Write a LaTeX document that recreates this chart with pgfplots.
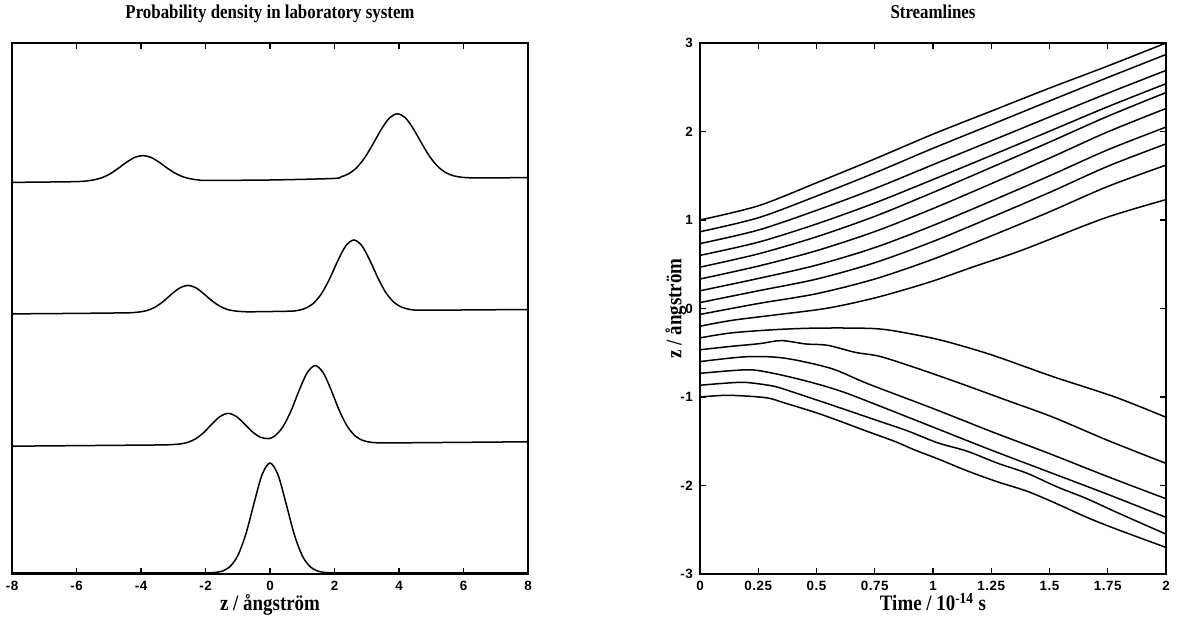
\documentclass[border=0pt]{standalone}
\usepackage{pgfplots}
\pgfplotsset{compat=1.18}
\usepackage{fontspec}
\setmainfont{Liberation Serif}
\newfontfamily\condserif[FakeStretch=0.86]{Liberation Serif}
\newfontfamily\ticksans[LetterSpace=4]{Liberation Sans}

\pgfplotsset{
  panel/.style={
    scale only axis,
    axis line style={line width=0.8pt},
    tick align=inside,
    major tick length=3pt,
    tick style={line width=0.6pt, black},
    every tick label/.append style={font=\ticksans\bfseries\fontsize{6.7}{7}\selectfont},
    every axis title shift=0pt,
    title style={font=\condserif\bfseries\fontsize{9.8}{11}\selectfont, at={(0.5,1)}, anchor=base, yshift=12pt},
    xlabel style={font=\condserif\bfseries\fontsize{11}{12}\selectfont, at={(0.5,0)}, anchor=base, yshift=-18.5pt},
    ylabel style={font=\condserif\bfseries\fontsize{11}{12}\selectfont},
  },
  curve/.style={black, solid, line width=0.75pt, no marks, smooth},
}

\begin{document}
\begin{tikzpicture}
\path[use as bounding box] (0,0) rectangle (589.5pt,309.5pt);

% ---------------- Left panel ----------------
\begin{axis}[panel, at={(6pt,22.5pt)}, anchor=south west, width=258pt, height=265.5pt,
  xmin=-8, xmax=8, ymin=0, ymax=531,
  xtick={-8,-6,-4,-2,0,2,4,6,8}, xticklabels={-8,-6,-4,-2,0,2,4,6,8}, xtick pos=both,
  ytick=\empty,
  title={Probability density in laboratory system},
  xlabel={z / ångström},
]
% top curve
\addplot[curve] coordinates {
(-8,391.6)(-6.5,392.1)(-5.95,392.4)(-5.7,393.0)(-5.45,394.2)(-5.2,396.4)(-4.95,400.3)(-4.7,405.8)
(-4.45,411.7)(-4.2,416.5)(-3.95,418.4)(-3.7,416.7)(-3.45,412.0)(-3.2,406.2)(-2.95,400.9)
(-2.7,397.2)(-2.45,395.1)(-2.2,394.0)(-1.95,393.6)(0,394)(1.95,395.5)(2.2,397.1)(2.45,400.4)
(2.7,406.8)(2.95,416.9)(3.2,430.4)(3.45,444.6)(3.7,455.9)(3.95,460.2)(4.2,456.1)(4.45,444.9)
(4.7,430.8)(4.95,417.5)(5.2,407.6)(5.45,401.3)(5.7,398.1)(5.95,396.7)(6.2,396.2)(6.5,396.0)(8,396.4)};
% second curve
\addplot[curve] coordinates {
(-8,260.1)(-6,260.6)(-4.55,261.1)(-4.3,261.3)(-4.05,262.0)(-3.8,263.6)(-3.55,267.1)(-3.3,272.8)
(-3.05,279.9)(-2.8,286.0)(-2.55,288.6)(-2.3,286.2)(-2.05,280.1)(-1.8,273.2)(-1.55,267.7)
(-1.3,264.3)(-1.05,262.9)(-0.8,262.3)(-0.55,262.2)(0.6,262.8)(0.85,263.5)(1.1,265.7)(1.35,270.8)
(1.6,280.5)(1.85,295.3)(2.1,313.1)(2.35,328.1)(2.6,334.0)(2.85,328.2)(3.1,313.4)(3.35,295.7)
(3.6,281.0)(3.85,271.5)(4.1,266.6)(4.35,264.5)(4.6,263.9)(6,264.0)(8,264.5)};
% third curve
\addplot[curve] coordinates {
(-8,127.8)(-5,128.6)(-3.55,129.0)(-3.3,129.1)(-3.05,129.35)(-2.8,130.0)(-2.55,131.6)(-2.3,135.3)
(-2.05,141.6)(-1.8,150.0)(-1.55,157.5)(-1.3,160.6)(-1.05,157.7)(-0.8,150.3)(-0.55,142.3)
(-0.3,136.8)(-0.05,135.4)(0.15,138.05)(0.4,147.2)(0.65,163.0)(0.9,183.35)(1.15,201.1)(1.4,208.4)
(1.65,201.3)(1.9,183.6)(2.15,163.4)(2.4,147.5)(2.65,137.8)(2.9,133.3)(3.15,131.6)(3.4,131.1)
(3.65,131.05)(5,131.4)(8,132.2)};
% bottom curve
\addplot[curve] coordinates {
(-8,1)(-2.5,1)(-2,1.07)(-1.75,1.4)(-1.5,2.7)(-1.25,7.1)(-1,18.3)(-0.75,39.8)(-0.5,70.2)(-0.25,99.0)
(0,111)(0.25,99.0)(0.5,70.2)(0.75,39.8)(1,18.3)(1.25,7.1)(1.5,2.7)(1.75,1.4)(2,1.07)(2.5,1)(8,1)};
\end{axis}

% ---------------- Right panel ----------------
\begin{axis}[panel, at={(350pt,22.5pt)}, anchor=south west, width=233pt, height=265.5pt,
  xmin=0, xmax=2, ymin=-3, ymax=3,
  xtick={0,0.25,0.5,0.75,1,1.25,1.5,1.75,2},
  xticklabels={0,0.25,0.5,0.75,1,1.25,1.5,1.75,2},
  ytick={-3,-2,-1,0,1,2,3}, yticklabels={-3,-2,-1,0,1,2,3},
  xtick pos=both, ytick pos=both,
  title={Streamlines},
  xlabel={Time / 10\textsuperscript{-14} s},
  ylabel={z / ångström},
  ylabel style={at={(axis description cs:-0.052,0.5)}, anchor=center},
]
\addplot[curve] coordinates {(0,1.0)(0.25,1.16)(0.5,1.42)(0.75,1.69)(1,1.97)(1.25,2.23)(1.5,2.49)(1.75,2.74)(2,3.0)};
\addplot[curve] coordinates {(0,0.867)(0.25,1.025)(0.5,1.27)(0.75,1.532)(1,1.81)(1.25,2.077)(1.5,2.345)(1.75,2.61)(2,2.87)};
\addplot[curve] coordinates {(0,0.733)(0.25,0.886)(0.5,1.109)(0.75,1.355)(1,1.625)(1.25,1.894)(1.5,2.164)(1.75,2.432)(2,2.69)};
\addplot[curve] coordinates {(0,0.6)(0.25,0.749)(0.5,0.955)(0.75,1.192)(1,1.457)(1.25,1.729)(1.5,2.003)(1.75,2.28)(2,2.54)};
\addplot[curve] coordinates {(0,0.467)(0.25,0.617)(0.5,0.81)(0.75,1.041)(1,1.311)(1.25,1.594)(1.5,1.88)(1.75,2.172)(2,2.44)};
\addplot[curve] coordinates {(0,0.333)(0.25,0.479)(0.5,0.653)(0.75,0.869)(1,1.129)(1.25,1.41)(1.5,1.699)(1.75,1.996)(2,2.26)};
\addplot[curve] coordinates {(0,0.2)(0.25,0.339)(0.5,0.49)(0.75,0.688)(1,0.938)(1.25,1.214)(1.5,1.499)(1.75,1.793)(2,2.05)};
\addplot[curve] coordinates {(0,0.067)(0.25,0.2)(0.5,0.332)(0.75,0.517)(1,0.757)(1.25,1.03)(1.5,1.311)(1.75,1.607)(2,1.86)};
\addplot[curve] coordinates {(0,-0.067)(0.25,0.056)(0.5,0.167)(0.75,0.333)(1,0.557)(1.25,0.82)(1.5,1.092)(1.75,1.379)(2,1.62)};
\addplot[curve] coordinates {(0,-0.2)(0.137,-0.134)(0.322,-0.073)(0.548,0.004)(0.76,0.126)(0.985,0.298)(1.171,0.469)(1.383,0.66)(1.735,1.02)(2,1.23)};
% lower group
\addplot[curve] coordinates {(0,-0.332)(0.137,-0.275)(0.335,-0.237)(0.521,-0.221)(0.76,-0.229)(0.919,-0.294)(1.052,-0.37)(1.25,-0.523)(1.516,-0.771)(1.781,-1.0)(2,-1.229)};
\addplot[curve] coordinates {(0,-0.466)(0.137,-0.427)(0.256,-0.397)(0.349,-0.363)(0.455,-0.401)(0.548,-0.416)(0.667,-0.496)(0.773,-0.542)(0.932,-0.676)(1.118,-0.847)(1.317,-1.038)(1.516,-1.229)(1.755,-1.496)(2,-1.75)};
\addplot[curve] coordinates {(0,-0.6)(0.2,-0.545)(0.362,-0.561)(0.561,-0.676)(0.72,-0.85)(1,-1.13)(1.25,-1.39)(1.5,-1.64)(1.75,-1.9)(2,-2.15)};
\addplot[curve] coordinates {(0,-0.733)(0.137,-0.702)(0.23,-0.695)(0.35,-0.752)(0.495,-0.847)(0.614,-0.943)(0.75,-1.08)(1,-1.34)(1.25,-1.6)(1.5,-1.85)(1.75,-2.1)(2,-2.36)};
\addplot[curve] coordinates {(0,-0.867)(0.13,-0.84)(0.2,-0.836)(0.3,-0.87)(0.353,-0.905)(0.506,-1.038)(0.635,-1.153)(0.763,-1.268)(0.891,-1.383)(1.019,-1.517)(1.147,-1.613)(1.276,-1.747)(1.404,-1.862)(1.532,-2.015)(1.66,-2.149)(1.788,-2.303)(2,-2.55)};
\addplot[curve] coordinates {(0,-1.0)(0.122,-0.981)(0.282,-1.008)(0.365,-1.069)(0.506,-1.184)(0.635,-1.307)(0.712,-1.383)(0.84,-1.506)(0.917,-1.594)(1.019,-1.697)(1.147,-1.835)(1.276,-1.958)(1.404,-2.065)(1.532,-2.207)(1.66,-2.36)(1.788,-2.494)(2,-2.7)};
\end{axis}
\end{tikzpicture}
\end{document}
